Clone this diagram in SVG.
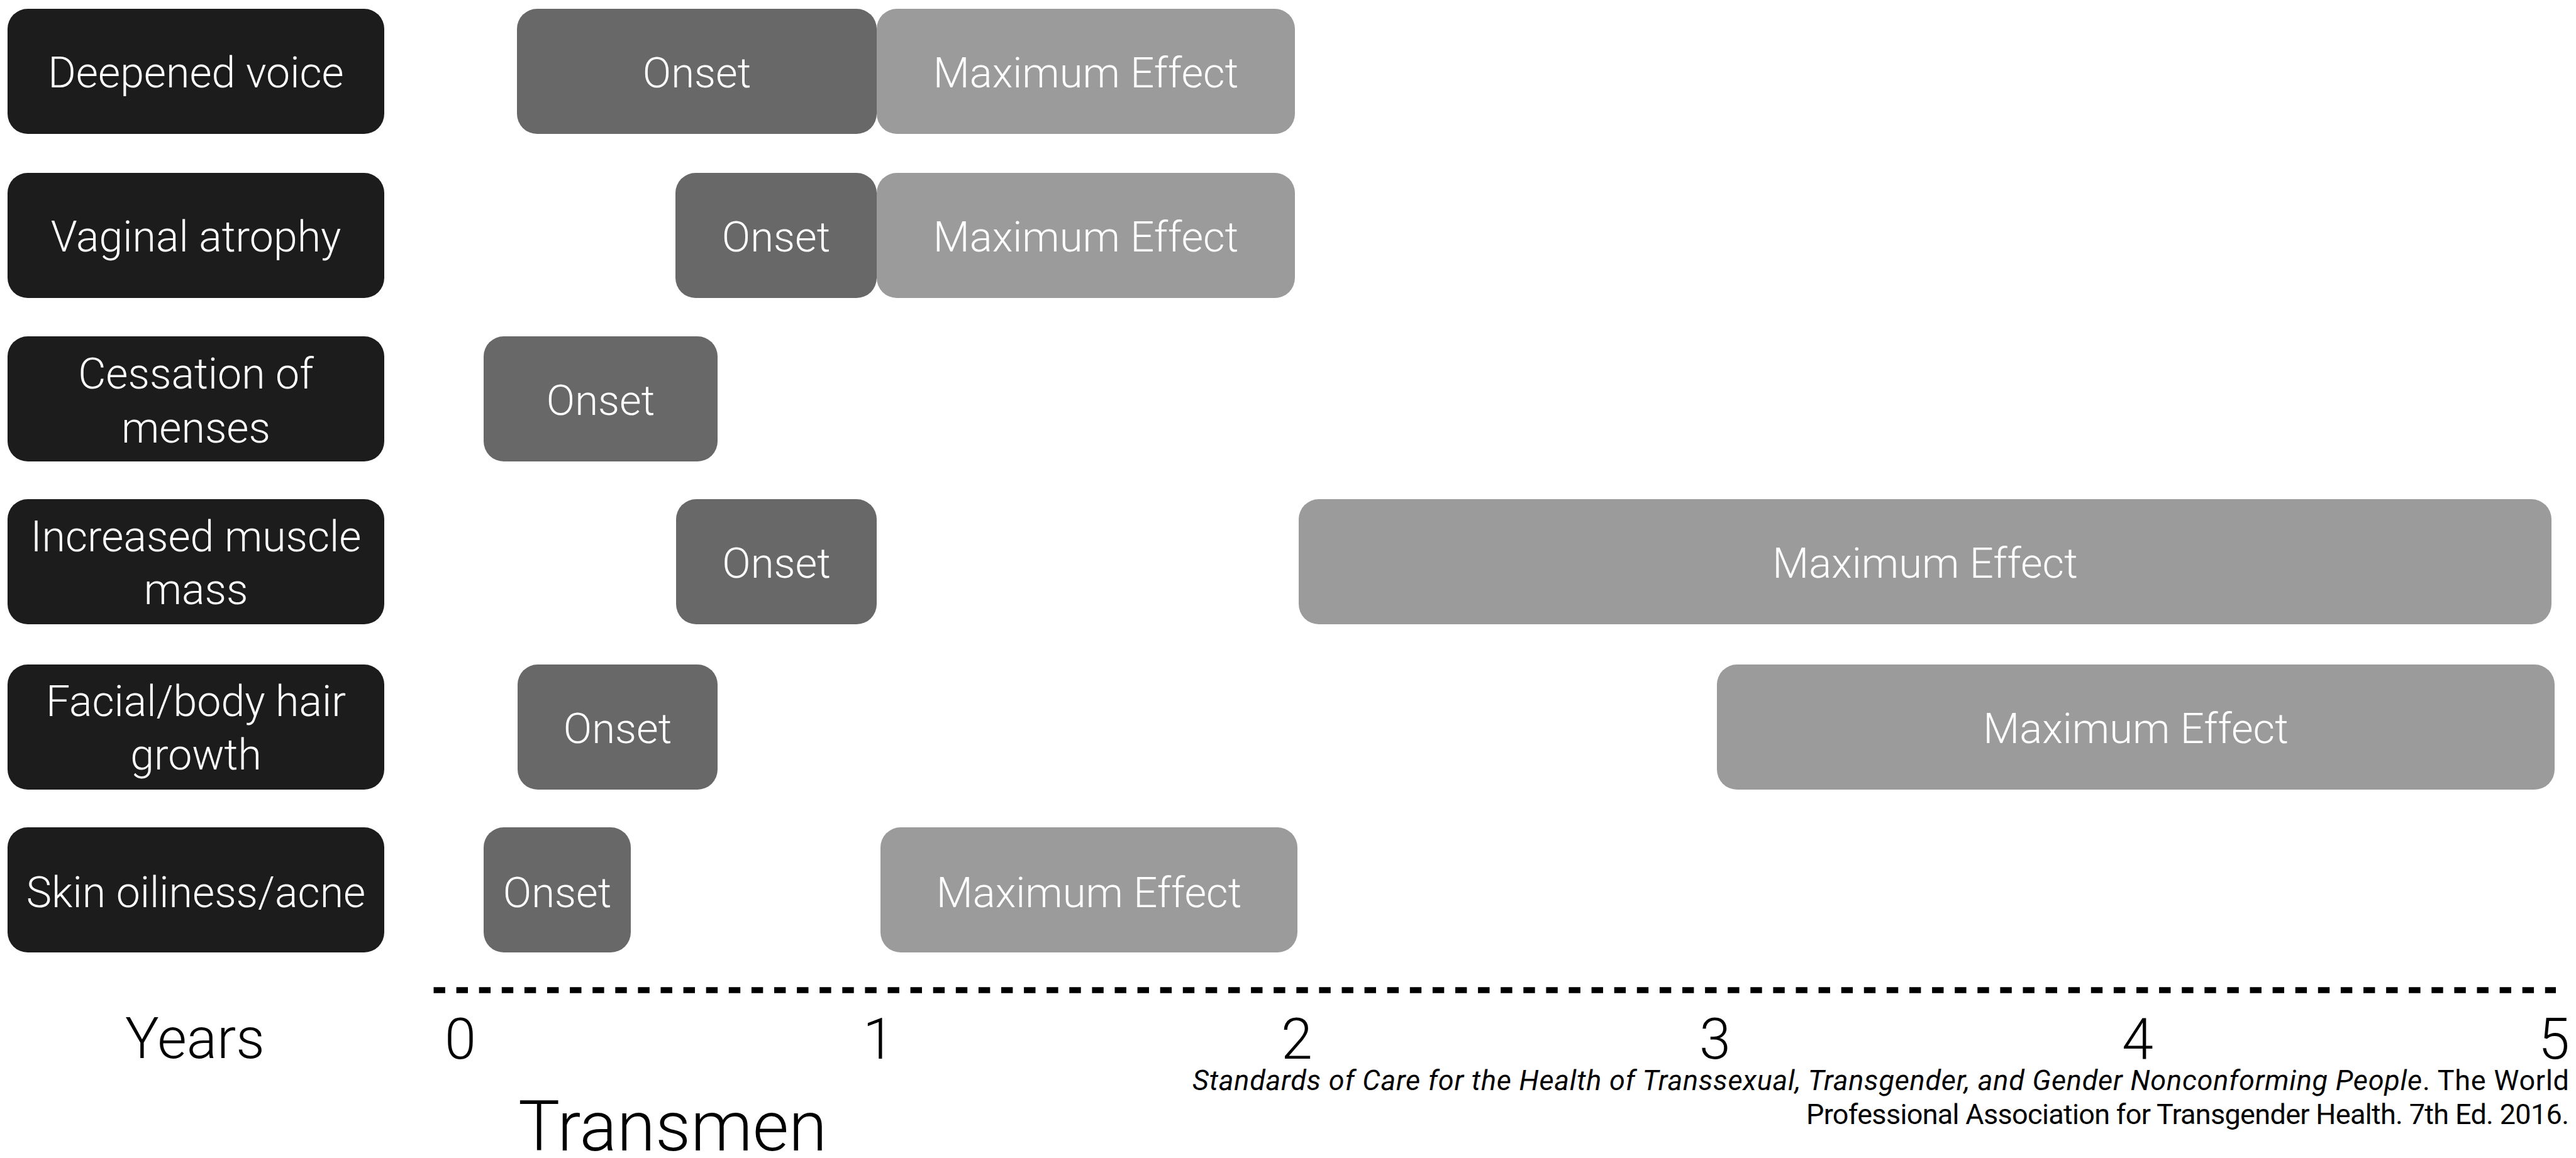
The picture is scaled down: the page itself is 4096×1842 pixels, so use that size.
<svg xmlns="http://www.w3.org/2000/svg" width="4096" height="1842" viewBox="0 0 4096 1842">
  <style>
    .label { fill: #1c1c1c; }
    .onset { fill: #686868; }
    .max { fill: #9b9b9b; }
    .t { font-family: Roboto, "Liberation Sans", sans-serif; font-weight: 300; font-size: 67px; fill: #ffffff; text-anchor: middle; }
    .tl { font-size: 68px; }
    .axis { font-family: Roboto, "Liberation Sans", sans-serif; font-weight: 300; font-size: 90px; fill: #000000; text-anchor: middle; }
    .title { font-family: Roboto, "Liberation Sans", sans-serif; font-weight: 300; font-size: 111px; fill: #000000; }
    .cite { font-family: Roboto, "Liberation Sans", sans-serif; font-weight: 400; font-size: 45px; fill: #000000; text-anchor: end; }
  </style>
  <rect width="4096" height="1842" fill="#ffffff"/>

  <!-- effect rows: label, onset bar, maximum-effect bar -->
  <g id="deepened-voice">
    <rect class="label" x="12" y="14" width="599" height="199" rx="32"/>
    <text class="t tl" x="311.5" y="139">Deepened voice</text>
  </g>
  <g id="deepened-voice-onset">
    <rect class="onset" x="822" y="14" width="572" height="199" rx="32"/>
    <text class="t" x="1108" y="139">Onset</text>
  </g>
  <g id="deepened-voice-max">
    <rect class="max" x="1394" y="14" width="665" height="199" rx="32"/>
    <text class="t" x="1726.5" y="139">Maximum Effect</text>
  </g>

  <g id="vaginal-atrophy">
    <rect class="label" x="12" y="275" width="599" height="199" rx="32"/>
    <text class="t tl" x="311.5" y="400">Vaginal atrophy</text>
  </g>
  <g id="vaginal-atrophy-onset">
    <rect class="onset" x="1074" y="275" width="320" height="199" rx="32"/>
    <text class="t" x="1234" y="400">Onset</text>
  </g>
  <g id="vaginal-atrophy-max">
    <rect class="max" x="1394" y="275" width="665" height="199" rx="32"/>
    <text class="t" x="1726.5" y="400">Maximum Effect</text>
  </g>

  <g id="cessation-of-menses">
    <rect class="label" x="12" y="535" width="599" height="199" rx="32"/>
    <text class="t tl" x="311.5" y="618">Cessation of</text>
    <text class="t tl" x="311.5" y="704">menses</text>
  </g>
  <g id="cessation-of-menses-onset">
    <rect class="onset" x="769" y="535" width="372" height="199" rx="32"/>
    <text class="t" x="955" y="660">Onset</text>
  </g>

  <g id="increased-muscle-mass">
    <rect class="label" x="12" y="794" width="599" height="199" rx="32"/>
    <text class="t tl" x="311.5" y="877">Increased muscle</text>
    <text class="t tl" x="311.5" y="961">mass</text>
  </g>
  <g id="increased-muscle-mass-onset">
    <rect class="onset" x="1075" y="794" width="319" height="199" rx="32"/>
    <text class="t" x="1234.5" y="919">Onset</text>
  </g>
  <g id="increased-muscle-mass-max">
    <rect class="max" x="2065" y="794" width="1992" height="199" rx="32"/>
    <text class="t" x="3061" y="919">Maximum Effect</text>
  </g>

  <g id="facial-body-hair">
    <rect class="label" x="12" y="1057" width="599" height="199" rx="32"/>
    <text class="t tl" x="311.5" y="1139">Facial/body hair</text>
    <text class="t tl" x="311.5" y="1224">growth</text>
  </g>
  <g id="facial-body-hair-onset">
    <rect class="onset" x="823" y="1057" width="318" height="199" rx="32"/>
    <text class="t" x="982" y="1182">Onset</text>
  </g>
  <g id="facial-body-hair-max">
    <rect class="max" x="2730" y="1057" width="1332" height="199" rx="32"/>
    <text class="t" x="3396" y="1182">Maximum Effect</text>
  </g>

  <g id="skin-oiliness">
    <rect class="label" x="12" y="1316" width="599" height="199" rx="32"/>
    <text class="t tl" x="311.5" y="1443">Skin oiliness/acne</text>
  </g>
  <g id="skin-oiliness-onset">
    <rect class="onset" x="769" y="1316" width="234" height="199" rx="32"/>
    <text class="t" x="886" y="1443">Onset</text>
  </g>
  <g id="skin-oiliness-max">
    <rect class="max" x="1400" y="1316" width="663" height="199" rx="32"/>
    <text class="t" x="1731.5" y="1443">Maximum Effect</text>
  </g>

  <!-- time axis -->
  <g id="connectors">
    <line x1="689.5" y1="1575" x2="4064" y2="1575" stroke="#000000" stroke-width="9.3" stroke-dasharray="18.4 17.7"/>
  </g>

  <g id="axis-labels">
    <text class="axis" x="310" y="1683">Years</text>
    <text class="axis" x="732" y="1684">0</text>
    <text class="axis" x="1397" y="1684">1</text>
    <text class="axis" x="2062" y="1684">2</text>
    <text class="axis" x="2727" y="1684">3</text>
    <text class="axis" x="3399" y="1684">4</text>
    <text class="axis" x="4061" y="1684">5</text>
  </g>

  <text id="title" class="title" x="824" y="1830">Transmen</text>

  <g id="citation">
    <text class="cite" x="4085" y="1734" textLength="2189" lengthAdjust="spacing"><tspan font-style="italic">Standards of Care for the Health of Transsexual, Transgender, and Gender Nonconforming People</tspan>. The World</text>
    <text class="cite" x="4085" y="1788" textLength="1213" lengthAdjust="spacing">Professional Association for Transgender Health. 7th Ed. 2016.</text>
  </g>
</svg>
